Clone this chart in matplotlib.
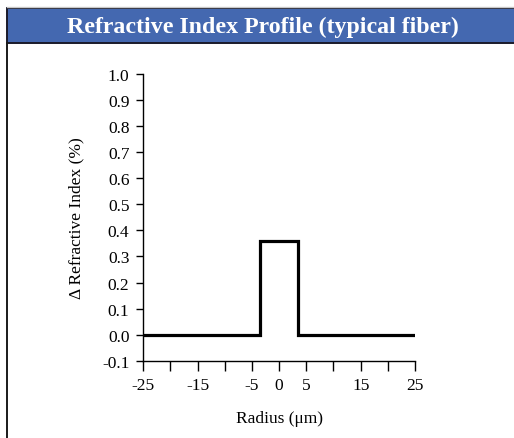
import matplotlib
matplotlib.use("Agg")
import matplotlib.pyplot as plt
from matplotlib.patches import Rectangle
from matplotlib.lines import Line2D

# Data
radius = [-25, -3.5, -3.5, 3.5, 3.5, 25]
delta_n = [0.0, 0.0, 0.36, 0.36, 0.0, 0.0]
x_ticks = [-25, -20, -15, -10, -5, 0, 5, 10, 15, 20, 25]
x_tick_labels = ["-25", "", "-15", "", "-5", "0", "5", "", "15", "", "25"]
y_ticks = [-0.1, 0.0, 0.1, 0.2, 0.3, 0.4, 0.5, 0.6, 0.7, 0.8, 0.9, 1.0]
y_tick_labels = ["-0.1", "0.0", "0.1", "0.2", "0.3", "0.4", "0.5", "0.6", "0.7", "0.8", "0.9", "1.0"]
title = "Refractive Index Profile (typical fiber)"
xlabel = "Radius (\u03bcm)"
ylabel = "\u0394 Refractive Index (%)"

plt.rcParams['font.family'] = ['Liberation Serif', 'DejaVu Serif']

W, H = 514, 439
fig = plt.figure(figsize=(W / 100, H / 100), dpi=100)
fig.patch.set_facecolor("white")

# Header band
fig.add_artist(Line2D([7 / W, 1], [1 - 8 / H, 1 - 8 / H], color="#c8c8c8", lw=1.0))
fig.add_artist(Rectangle((7 / W, 1 - 44 / H), 1 - 7 / W + 0.01, 35 / H,
                         facecolor="#4468b0", edgecolor="#1a1a2a", lw=1.4,
                         transform=fig.transFigure))
fig.text(263 / W, 1 - 27 / H, title, color="white", fontsize=17.2,
         fontweight="bold", ha="center", va="center")
# Left border line
fig.add_artist(Line2D([7 / W, 7 / W], [0, 1 - 44 / H], color="#1a1a1a", lw=1.4))

ax = fig.add_axes([143.3 / W, 1 - 361.7 / H, (415 - 143.3) / W, (361.7 - 75) / H])
ax.plot(radius, delta_n, color="black", lw=2.3, solid_joinstyle="miter")
ax.set_xlim(-25, 25)
ax.set_ylim(-0.1, 1.0)
ax.set_xticks(x_ticks)
ax.set_xticklabels(x_tick_labels, fontsize=12.5)
ax.set_yticks(y_ticks)
ax.set_yticklabels(y_tick_labels, fontsize=12.5)
ax.spines["top"].set_visible(False)
ax.spines["right"].set_visible(False)
for s in ("left", "bottom"):
    ax.spines[s].set_linewidth(1.0)
ax.tick_params(axis="both", direction="out", length=5, width=1.0, color="black")
ax.tick_params(axis="x", length=7, pad=5)
ax.tick_params(axis="y", pad=5)
ax.set_xlabel(xlabel, fontsize=12.5, labelpad=12)
ax.set_ylabel(ylabel, fontsize=12.5, labelpad=13)

fig.savefig("out.png", dpi=100)
